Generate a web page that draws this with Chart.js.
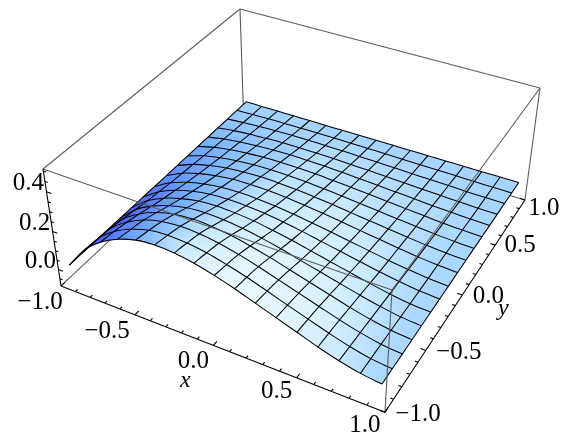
<!DOCTYPE html>
<html>
<head>
<meta charset="utf-8">
<style>
  html, body { margin: 0; padding: 0; background: #fff; }
  canvas { display: block; }
</style>
<script src="https://cdn.jsdelivr.net/npm/chart.js@4/dist/chart.umd.min.js"></script>
</head>
<body>
<canvas id="chart" width="563" height="439"></canvas>
<script>
// mesh lines of the surface
const xGrid = [-0.97, -0.85, -0.73, -0.61, -0.49, -0.37, -0.25, -0.13, -0.01, 0.11, 0.23, 0.35, 0.47, 0.59, 0.71, 0.83, 0.95];
const yGrid = [-0.94, -0.82, -0.70, -0.58, -0.46, -0.34, -0.22, -0.10, 0.03, 0.15, 0.27, 0.39, 0.51, 0.63, 0.75, 0.87, 0.99];

// surface height, one row per yGrid value
const zRow0 = [0, .115, .190, .240, .270, .280, .275, .260, .235, .205, .170, .135, .100, .065, .035, .012, 0];
const zRow1 = [0, .109, .181, .228, .257, .266, .261, .247, .223, .195, .162, .128, .095, .062, .033, .011, 0];
const zRow2 = [0, .102, .169, .214, .240, .249, .245, .231, .209, .182, .151, .120, .089, .058, .031, .011, 0];
const zRow3 = [0, .092, .152, .192, .216, .224, .220, .208, .188, .164, .136, .108, .080, .052, .028, .010, 0];
const zRow4 = [0, .081, .133, .168, .189, .196, .193, .182, .165, .144, .119, .095, .070, .046, .025, .008, 0];
const zRow5 = [0, .070, .116, .146, .165, .171, .168, .159, .143, .125, .104, .082, .061, .040, .021, .007, 0];
const zRow6 = [0, .061, .101, .127, .143, .148, .146, .138, .125, .109, .090, .072, .053, .034, .019, .006, 0];
const zRow7 = [0, .052, .086, .108, .122, .126, .124, .117, .106, .092, .077, .061, .045, .029, .016, .005, 0];
const zRow8 = [0, .044, .072, .091, .103, .106, .105, .099, .089, .078, .065, .051, .038, .025, .013, .005, 0];
const zRow9 = [0, .037, .061, .077, .086, .090, .088, .083, .075, .066, .054, .043, .032, .021, .011, .004, 0];
const zRow10 = [0, .030, .049, .062, .070, .073, .072, .068, .061, .053, .044, .035, .026, .017, .009, .003, 0];
const zRow11 = [0, .024, .040, .050, .057, .059, .058, .055, .049, .043, .036, .028, .021, .014, .007, .003, 0];
const zRow12 = [0, .018, .030, .038, .043, .045, .044, .042, .038, .033, .027, .022, .016, .010, .006, .002, 0];
const zRow13 = [0, .013, .021, .026, .030, .031, .030, .029, .026, .023, .019, .015, .011, .007, .004, .001, 0];
const zRow14 = [0, .008, .013, .017, .019, .020, .019, .018, .016, .014, .012, .009, .007, .005, .002, .001, 0];
const zRow15 = [0, .003, .006, .007, .008, .008, .008, .008, .007, .006, .005, .004, .003, .002, .001, 0, 0];
const zRow16 = [0, 0, 0, 0, 0, 0, 0, 0, 0, 0, 0, 0, 0, 0, 0, 0, 0];
const zGrid = [zRow0, zRow1, zRow2, zRow3, zRow4, zRow5, zRow6, zRow7, zRow8, zRow9, zRow10, zRow11, zRow12, zRow13, zRow14, zRow15, zRow16];

// axis ticks
const xyMajorTicks = [-1, -0.5, 0, 0.5, 1];
const xyMinorTicks = [-0.9, -0.8, -0.7, -0.6, -0.4, -0.3, -0.2, -0.1, 0.1, 0.2, 0.3, 0.4, 0.6, 0.7, 0.8, 0.9];
const zMajorTicks = [0, 0.2, 0.4];
const zMinorTicks = [-0.05, 0.05, 0.1, 0.15, 0.25, 0.3, 0.35, 0.45, 0.5];

const xLabels = ['−1.0', '−0.5', '0.0', '0.5', '1.0'];
const yLabels = ['−1.0', '−0.5', '0.0', '0.5', '1.0'];
const zLabels = ['0.0', '0.2', '0.4'];

const zTop = 0.51;
const zBottom = -0.09;

// perspective camera, fitted on the corners of the box
function project(x, y, z) {
  const s = (x + 1) / 2;
  const t = (y + 1) / 2;
  const k = (zTop - z) / (zTop - zBottom);
  const w = 1 - 0.12075 * s + 0.2229 * t + 0.0746 * k;
  return {
    x: (43 + 301.67 * s + 250.5 * t + 22.55 * k) / w,
    y: (169 + 85.98 * s - 157.99 * t + 138.3 * k) / w
  };
}

// colour follows the slope along x, fading back to the flat colour near x = 1
const shadeStops = [
  [-0.9, [62, 72, 255]],
  [-0.5, [78, 110, 255]],
  [-0.2, [110, 170, 255]],
  [0, [165, 212, 255]],
  [0.1, [208, 238, 255]],
  [0.25, [232, 248, 255]]
];
const fadeFrom = 0.15;
const fadeTo = 1.05;

function shadeAt(i, j) {
  const row = zGrid[j];
  const lo = Math.max(i - 1, 0);
  const hi = Math.min(i + 1, row.length - 1);
  let v = -(row[hi] - row[lo]) / (0.125 * (hi - lo));
  if (v > 0) {
    v = Math.max(v, 0.08 * (1 - (j / 16) ** 3));
    v *= 1 - Math.min(1, Math.max(0, (xGrid[i] - fadeFrom) / (fadeTo - fadeFrom)));
  }
  if (v <= shadeStops[0][0]) return shadeStops[0][1];
  for (let n = 1; n < shadeStops.length; n++) {
    if (v <= shadeStops[n][0]) {
      const f = (v - shadeStops[n - 1][0]) / (shadeStops[n][0] - shadeStops[n - 1][0]);
      return shadeStops[n - 1][1].map((c, m) => c + (shadeStops[n][1][m] - c) * f);
    }
  }
  return shadeStops[shadeStops.length - 1][1];
}

const rgb = (c) => `rgb(${c.map(Math.round).join(',')})`;

function node(i, j) {
  return project(xGrid[i], yGrid[j], zGrid[j][i]);
}

// gradient over one cell, along its diagonal with the bigger colour change
function cellFill(context, i, j) {
  const { x: sx, y: sy } = context.chart.scales;
  const ends = [[i, j, i + 1, j + 1], [i + 1, j, i, j + 1]].map(([a, b, c, d]) => ({
    a: [a, b], b: [c, d],
    diff: Math.abs(shadeAt(a, b)[0] - shadeAt(c, d)[0])
  }));
  const use = ends[0].diff >= ends[1].diff ? ends[0] : ends[1];
  const p = node(use.a[0], use.a[1]);
  const q = node(use.b[0], use.b[1]);
  const coords = [sx.getPixelForValue(p.x), sy.getPixelForValue(p.y), sx.getPixelForValue(q.x), sy.getPixelForValue(q.y)];
  // scales have no pixels yet on the first pass
  if (!coords.every(Number.isFinite)) return rgb(shadeAt(i, j));
  const g = context.chart.ctx.createLinearGradient(...coords);
  g.addColorStop(0, rgb(shadeAt(use.a[0], use.a[1])));
  g.addColorStop(1, rgb(shadeAt(use.b[0], use.b[1])));
  return g;
}

function lineSet(points, color, width) {
  return {
    data: points, showLine: true, fill: false, pointRadius: 0,
    borderColor: color, borderWidth: width, tension: 0
  };
}

const GRAY = '#5c5c5c';
const layers = [];
const boxLine = (a, b, color) => layers.push(lineSet([project(...a), project(...b)], color, 1.1));

// back of the box, hidden by the surface
boxLine([-1, 1, zTop], [-1, 1, zBottom], GRAY);
boxLine([-1, -1, zBottom], [-1, 1, zBottom], GRAY);
boxLine([1, 1, zBottom], [-1, 1, zBottom], GRAY);

// surface cells, far ones first
for (let j = yGrid.length - 2; j >= 0; j--) {
  for (let i = 0; i < xGrid.length - 1; i++) {
    layers.push({
      data: [node(i, j), node(i + 1, j), node(i + 1, j + 1), node(i, j + 1)],
      showLine: true, fill: 'shape', pointRadius: 0, borderWidth: 0,
      borderColor: 'transparent',
      backgroundColor: (context) => cellFill(context, i, j)
    });
  }
}

// mesh
yGrid.forEach((_, j) => {
  const set = lineSet(xGrid.map((__, i) => node(i, j)), '#000', 1.05);
  set.tension = 0.3;
  layers.push(set);
});
xGrid.forEach((_, i) => {
  const set = lineSet(yGrid.map((__, j) => node(i, j)), '#000', 1.05);
  set.tension = 0.3;
  layers.push(set);
});

// rest of the box, in front of the surface
boxLine([-1, -1, zTop], [-1, 1, zTop], GRAY);
boxLine([-1, 1, zTop], [1, 1, zTop], GRAY);
boxLine([1, 1, zTop], [1, -1, zTop], GRAY);
boxLine([1, -1, zTop], [-1, -1, zTop], GRAY);
boxLine([1, 1, zTop], [1, 1, zBottom], GRAY);
boxLine([1, -1, zTop], [1, -1, zBottom], GRAY);

// the three axes with ticks
boxLine([-1, -1, zTop], [-1, -1, zBottom], '#000');
boxLine([-1, -1, zBottom], [1, -1, zBottom], '#000');
boxLine([1, -1, zBottom], [1, 1, zBottom], '#000');

const addTicks = (ticks, size) => {
  ticks.forEach((v) => {
    boxLine([v, -1, zBottom], [v, -1 + 0.035 * size, zBottom], '#000');
    boxLine([1, v, zBottom], [1 - 0.03 * size, v, zBottom], '#000');
  });
};
addTicks(xyMajorTicks, 1);
addTicks(xyMinorTicks, 0.6);
zMajorTicks.forEach((v) => boxLine([-1, -1, v], [-1 + 0.032, -1, v], '#000'));
zMinorTicks.forEach((v) => boxLine([-1, -1, v], [-1 + 0.018, -1, v], '#000'));

layers.forEach((set, n) => { set.order = layers.length - n; });

// tick labels and axis names, offsets from the tick they belong to
const tickText = [];
xyMajorTicks.forEach((v, n) => {
  const off = [[-21, 16], [-28, 17], [-20, 16], [-20, 14], [-20, 13]][n];
  tickText.push({ at: project(v, -1, zBottom), off, text: xLabels[n] });
});
xyMajorTicks.forEach((v, n) => {
  const off = [[33, 2], [33, 2], [26, 1], [25, 0], [19, 8]][n];
  tickText.push({ at: project(1, v, zBottom), off, text: yLabels[n] });
});
zMajorTicks.forEach((v, n) => {
  const off = [[-18, -8], [-18, -8], [-18, -8]][n];
  tickText.push({ at: project(-1, -1, v), off, text: zLabels[n] });
});

const labelPlugin = {
  id: 'labels',
  afterDatasetsDraw(chart) {
    const { ctx, scales } = chart;
    ctx.save();
    ctx.fillStyle = '#000';
    ctx.textAlign = 'center';
    ctx.textBaseline = 'middle';
    ctx.font = '25px "Liberation Serif"';
    tickText.forEach((t) => {
      ctx.fillText(t.text, scales.x.getPixelForValue(t.at.x) + t.off[0], scales.y.getPixelForValue(t.at.y) + t.off[1]);
    });
    ctx.font = 'italic 24px "Liberation Serif"';
    const xAt = project(0, -1, zBottom);
    const yAt = project(1, 0, zBottom);
    ctx.fillText('x', scales.x.getPixelForValue(xAt.x) - 28, scales.y.getPixelForValue(xAt.y) + 35);
    ctx.fillText('y', scales.x.getPixelForValue(yAt.x) + 41, scales.y.getPixelForValue(yAt.y) + 14);
    ctx.restore();
  }
};

new Chart(document.getElementById('chart'), {
  type: 'scatter',
  data: { datasets: layers },
  options: {
    responsive: false,
    animation: false,
    events: [],
    layout: { padding: 0 },
    plugins: { legend: { display: false }, tooltip: { enabled: false } },
    scales: {
      x: { type: 'linear', display: false, min: 0, max: 563 },
      y: { type: 'linear', display: false, min: 0, max: 439, reverse: true }
    }
  },
  plugins: [labelPlugin]
});
</script>
</body>
</html>
